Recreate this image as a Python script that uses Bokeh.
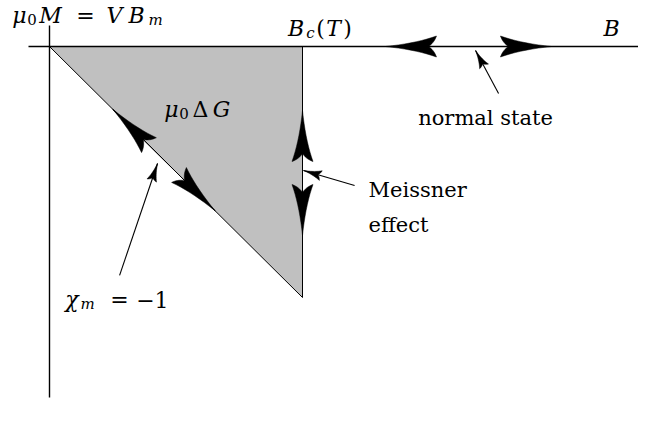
import numpy as np
from bokeh.plotting import figure
from bokeh.models import Range1d, Label
from bokeh.embed import file_html
from bokeh.resources import INLINE

# ---- data: B in units of Bc(T); mu0*M in the same units ----
axis_B_x = [-0.083, 2.328]      # horizontal B axis extent
axis_M_y = [0.084, -1.398]      # vertical mu0 M axis extent
region_B = [0.0, 1.0, 1.0]      # superconducting region (mu0 dG)
region_M = [0.0, 0.0, -1.0]
# double arrows: (end1, end2)
normal_B = [1.328, 1.984]
normal_M = [0.0, 0.0]
meissner_B = [1.0, 1.0]
meissner_M = [-0.255, -0.753]
chi_B = [0.25, 0.655]
chi_M = [-0.25, -0.655]
# pointer arrows: (tail, tip)
ptr_normal_B = [1.775, 1.684]
ptr_normal_M = [-0.187, -0.016]
ptr_meis_B = [1.206, 1.004]
ptr_meis_M = [-0.554, -0.494]
ptr_chi_B = [0.277, 0.427]
ptr_chi_M = [-0.912, -0.466]

# ---- layout (page pixel geometry) ----
W_FIG, H_FIG = 638, 416
PAGE_OFF = 0
TEXT_DY = -8             # baseline correction for text
OX, OY = 49.0, 46.0      # page px of origin
SX, SY = 253.0, 251.0    # px per unit


def to_px(B, M):
    return OX + np.asarray(B) * SX, OY - np.asarray(M) * SY


def to_data(px, py):
    return (np.asarray(px) - OX) / SX, -(np.asarray(py) - OY) / SY


x0, _ = to_data(PAGE_OFF, 0)
x1, _ = to_data(PAGE_OFF + W_FIG, 0)
_, ytop = to_data(0, PAGE_OFF)
_, ybot = to_data(0, PAGE_OFF + H_FIG)

p = figure(width=W_FIG, height=H_FIG, output_backend="svg", toolbar_location=None,
           x_range=Range1d(float(x0), float(x1)), y_range=Range1d(float(ybot), float(ytop)),
           min_border=0, title=None)
p.axis.visible = False
p.grid.visible = False
p.outline_line_color = None
p.background_fill_color = "white"
p.border_fill_color = "white"

# region
p.patch(region_B, region_M, fill_color="#c0c0c0", line_color="black", line_width=1.0)
# axes
p.line(axis_B_x, [0, 0], line_color="black", line_width=1.4)
p.line([0, 0], axis_M_y, line_color="black", line_width=1.4)


def head(tipB, tipM, fromB, fromM, L, W, notch, n=10):
    tx, ty = to_px(tipB, tipM)
    fx, fy = to_px(fromB, fromM)
    d = np.array([tx - fx, ty - fy], dtype=float)
    d /= np.hypot(*d)
    nv = np.array([-d[1], d[0]])
    t = np.linspace(0, 1, n)

    def bez(P0, C, P2):
        P0, C, P2 = map(np.array, (P0, C, P2))
        return ((1 - t) ** 2)[:, None] * P0 + (2 * (1 - t) * t)[:, None] * C + (t ** 2)[:, None] * P2

    side1 = bez((0, 0), (0.6 * L, 0.3 * W), (L, W))
    back1 = bez((L, W), (L - 0.3 * notch, 0.35 * W), (L - notch, 0))
    back2 = back1[::-1][1:] * np.array([1, -1])
    side2 = side1[::-1][1:] * np.array([1, -1])
    loc = np.vstack([side1, back1[1:], back2, side2])
    pts = np.array([tx, ty]) - loc[:, :1] * d + loc[:, 1:] * nv
    B, M = to_data(pts[:, 0], pts[:, 1])
    return list(B), list(M)


def double_arrow(Bs, Ms):
    p.line(Bs, Ms, line_color="black", line_width=1.0)
    for i, j in ((0, 1), (1, 0)):
        hb, hm = head(Bs[i], Ms[i], Bs[j], Ms[j], 51, 10.5, 8)
        p.patch(hb, hm, fill_color="black", line_color="black", line_width=0.5)


def pointer(Bs, Ms):
    p.line(Bs, Ms, line_color="black", line_width=1.1)
    hb, hm = head(Bs[1], Ms[1], Bs[0], Ms[0], 18, 5, 3)
    p.patch(hb, hm, fill_color="black", line_color="black", line_width=0.5)


double_arrow(normal_B, normal_M)
double_arrow(meissner_B, meissner_M)
double_arrow(chi_B, chi_M)
pointer(ptr_normal_B, ptr_normal_M)
pointer(ptr_meis_B, ptr_meis_M)
pointer(ptr_chi_B, ptr_chi_M)

FONT = "DejaVu Serif"


def glyph(txt, cx, base, size=22, italic=True, align="center"):
    B, M = to_data(cx, base + TEXT_DY)
    p.add_layout(Label(x=float(B), y=float(M), text=txt, text_align=align,
                       text_baseline="alphabetic", text_font=FONT,
                       text_font_size=f"{size}px",
                       text_font_style="italic" if italic else "normal",
                       text_color="black"))


# mu0 M = V B_m
glyph("μ", 18.8, 23)
glyph("0", 31.5, 27, 15, False)
glyph("M", 50, 23)
glyph("=", 85, 23, 22, False)
glyph("V", 114, 23)
glyph("B", 136, 23)
glyph("m", 155, 27, 15)
# B_c(T)
glyph("B", 295.5, 36)
glyph("c", 310, 40, 15)
glyph("(", 320, 36, 22, False)
glyph("T", 333, 36)
glyph(")", 347, 36, 22, False)
# B
glyph("B", 611, 36)
# mu0 Delta G
glyph("μ", 171, 117)
glyph("0", 183.5, 121, 15, False)
glyph("Δ", 200, 117, 22, False)
glyph("G", 221, 117)
# chi_m = -1
glyph("χ", 71.5, 307)
glyph("m", 87, 311, 15)
glyph("=", 119, 307, 22, False)
glyph("−", 145, 307, 22, False)
glyph("1", 161, 307, 22, False)
# text labels
glyph("normal state", 485, 125, 21, False)
glyph("Meissner", 368, 197, 21, False, "left")
glyph("effect", 368, 232, 21, False, "left")

open("out.html", "w").write(file_html(p, INLINE))
